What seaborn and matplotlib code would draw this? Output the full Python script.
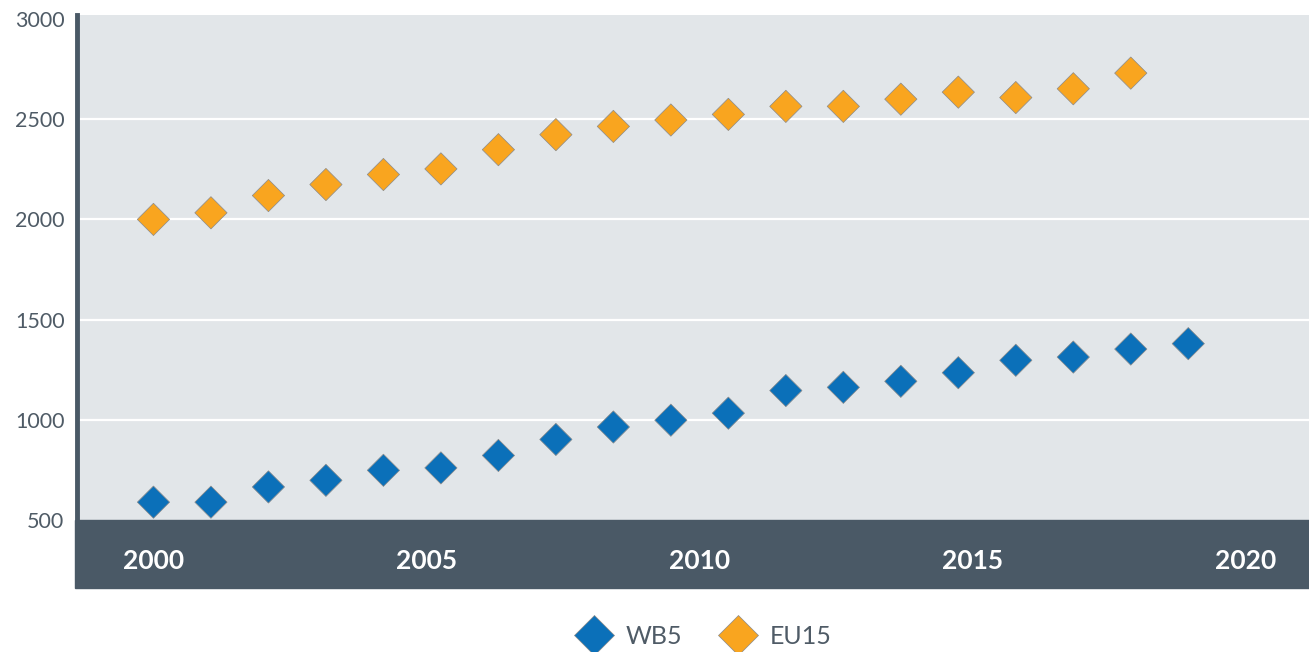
import numpy as np
import pandas as pd
import matplotlib
matplotlib.use("Agg")
import matplotlib.pyplot as plt
from matplotlib.patches import Rectangle
import seaborn as sns

# 데이터
wb5_years = list(range(2000, 2019))
wb5_values = [589, 589, 665, 698, 748, 760, 822, 902, 964, 998, 1033,
              1146, 1162, 1192, 1235, 1297, 1313, 1353, 1380]
eu15_years = list(range(2000, 2018))
eu15_values = [2000, 2033, 2119, 2174, 2224, 2252, 2348, 2423, 2464, 2496,
               2524, 2564, 2564, 2600, 2635, 2608, 2652, 2730]
series_names = ["WB5", "EU15"]
x_tick_labels = ["2000", "2005", "2010", "2015", "2020"]
y_ticks = [500, 1000, 1500, 2000, 2500, 3000]

df = pd.concat([
    pd.DataFrame({"year": wb5_years, "value": wb5_values, "series": "WB5"}),
    pd.DataFrame({"year": eu15_years, "value": eu15_values, "series": "EU15"}),
], ignore_index=True)

sns.set_theme(style="white")
plt.rcParams['font.family'] = ['Lato', 'DejaVu Sans']

dark = "#4a5966"
text_grey = "#4f5b66"
palette = {"WB5": "#0b70b9", "EU15": "#f9a51f"}

fig = plt.figure(figsize=(13.09, 6.52), dpi=100)
ax = fig.add_axes([77 / 1309, 132 / 652, 1 - 77 / 1309, (520 - 15) / 652])
ax.set_facecolor("#e2e6e9")

# x축 아래 어두운 띠 (눈금 라벨 뒤에 그림)
band = Rectangle((75 / 1309, 64 / 652), 1 - 75 / 1309, 68 / 652,
                 transform=fig.transFigure, color=dark, zorder=0, clip_on=False)
ax.add_patch(band)

for y in y_ticks[1:-1]:
    ax.axhline(y, color="white", lw=1.6, zorder=1)

sns.scatterplot(data=df, x="year", y="value", hue="series", hue_order=series_names,
                palette=palette, marker="D", s=270, edgecolor="#8a8a8a",
                linewidth=0.5, ax=ax, zorder=3, legend=True)

ax.set_xlim(2000 - 1.33, 2000 + 20.1)
ax.set_ylim(500, 3020)
ax.set_yticks(y_ticks)
ax.set_yticklabels([str(v) for v in y_ticks], color=text_grey, fontsize=15.5)
ax.tick_params(axis="y", length=0, pad=9)

# 원본처럼 라벨을 축 폭에 균등 배치
tick_pos = np.linspace(wb5_years[0], wb5_years[0] + 19, len(x_tick_labels))
ax.set_xticks(tick_pos)
ax.set_xticklabels(x_tick_labels, color="white", fontsize=19, fontweight="bold")
ax.tick_params(axis="x", length=0, pad=21)

ax.set_xlabel("")
ax.set_ylabel("")
for side in ["top", "right", "bottom"]:
    ax.spines[side].set_visible(False)
ax.spines["left"].set_color(dark)
ax.spines["left"].set_linewidth(3.5)

handles, labels = ax.get_legend_handles_labels()
ax.legend_.remove()
leg = fig.legend(handles, labels, loc="center", bbox_to_anchor=(0.535, 16 / 652),
                 ncol=2, frameon=False, fontsize=18, markerscale=1.25,
                 handletextpad=0.3, columnspacing=1.2)
for t in leg.get_texts():
    t.set_color(text_grey)

fig.savefig("out.png", dpi=100)
